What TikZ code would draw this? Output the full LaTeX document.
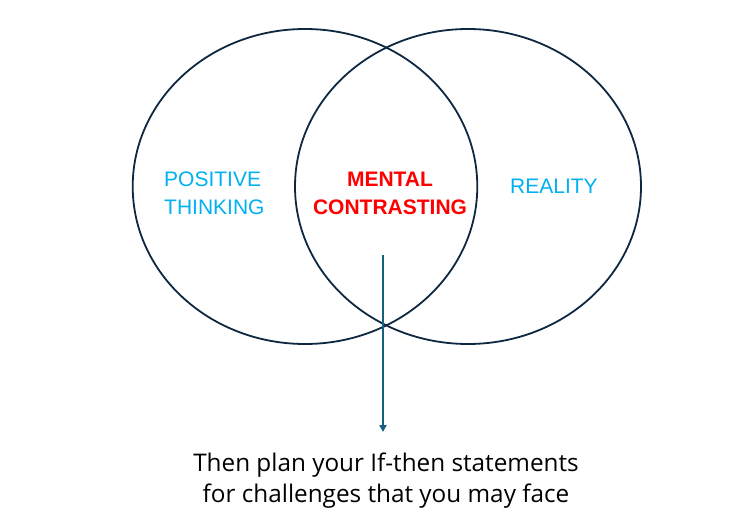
\documentclass[tikz,border=0pt]{standalone}
\usepackage{fontspec}
\setmainfont{Liberation Sans}
\newfontfamily\bottomfont{Open Sans}
\usetikzlibrary{arrows.meta}
\definecolor{ringcol}{HTML}{0E2841}
\definecolor{arrowcol}{HTML}{156082}
\definecolor{cyantext}{HTML}{00B0F0}
\definecolor{redtext}{HTML}{FF0000}
\begin{document}
\begin{tikzpicture}[x=1bp,y=-1bp,
  ring/.style={draw=ringcol,line width=1.8bp},
  lbl/.style={inner sep=0pt,align=left,font=\fontsize{21bp}{28.5bp}\selectfont},
  pointer/.style={draw=arrowcol,line width=1.8bp,-{Triangle[length=7bp,width=7bp]}}]
\useasboundingbox (0,0) rectangle (736,529);
\draw[ring] (305,186.5) ellipse [x radius=172.3, y radius=157.5];
\draw[ring] (468,186.5) ellipse [x radius=173, y radius=157.5];
\node[lbl,text=cyantext,anchor=west] (pos) at (164,193.5) {POSITIVE\\THINKING};
\node[lbl,text=redtext,align=center,font=\fontsize{21bp}{28.5bp}\selectfont\bfseries] (mc) at (390,193.5) {MENTAL\\CONTRASTING};
\node[lbl,text=cyantext,anchor=west] (real) at (510,186) {REALITY};
\coordinate (top) at (383,255);
\node[inner sep=0pt,align=center,font=\bottomfont\fontsize{24.3bp}{31bp}\selectfont] (plan) at (386,481) {Then plan your If-then statements\\for challenges that you may face};
\draw[pointer] (top) -- (383,432);
\end{tikzpicture}
\end{document}
